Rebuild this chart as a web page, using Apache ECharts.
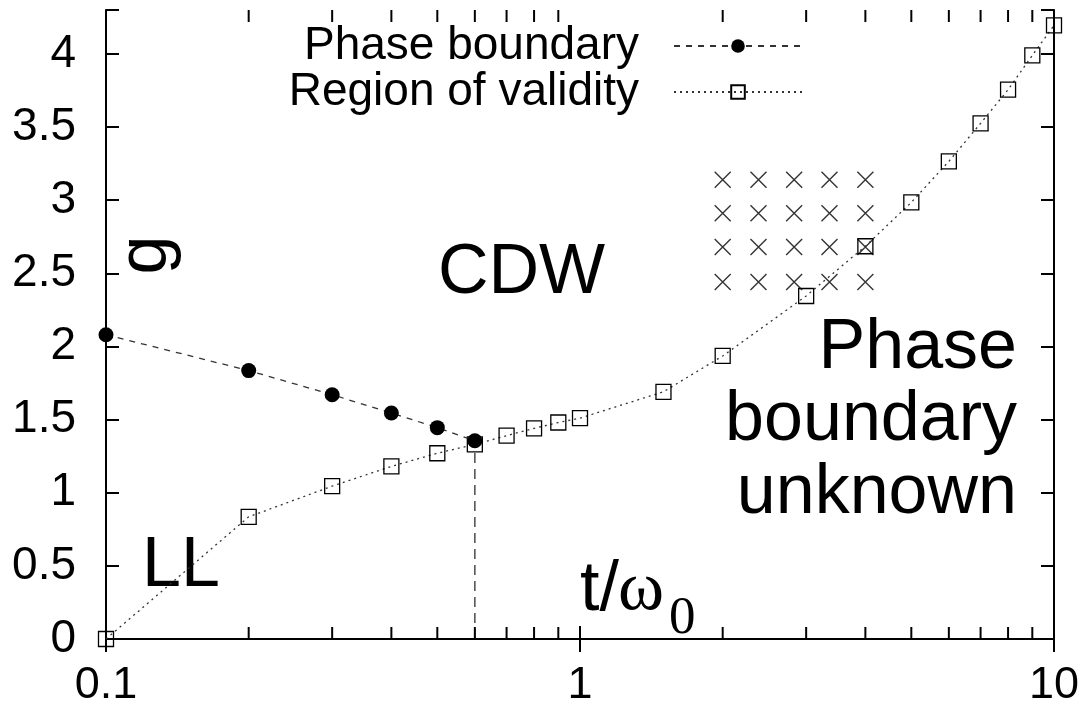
<!DOCTYPE html>
<html>
<head>
<meta charset="utf-8">
<script src="https://cdn.jsdelivr.net/npm/echarts@6/dist/echarts.min.js"></script>
<style>html,body{margin:0;padding:0;background:#fff}#c{width:1085px;height:709px}</style>
</head>
<body>
<div id="c"></div>
<script>
// ---- data ----
const phaseX = [0.1, 0.2, 0.3, 0.4, 0.5, 0.6];
const phaseY = [2.08, 1.835, 1.67, 1.545, 1.445, 1.355];

const validX = [0.1, 0.2, 0.3, 0.4, 0.5, 0.6, 0.7, 0.8, 0.9, 1, 1.5, 2, 3, 4, 5, 6, 7, 8, 9, 10];
const validY = [0, 0.835, 1.045, 1.18, 1.27, 1.33, 1.39, 1.44, 1.48, 1.51, 1.69, 1.935, 2.345, 2.685, 2.985, 3.265, 3.525, 3.755, 3.99, 4.195];

const crossX = [2, 2.38, 2.83, 3.36, 4];
const crossY = [3.14, 2.91, 2.68, 2.44];

const minorTicksX = [0.2, 0.3, 0.4, 0.5, 0.6, 0.7, 0.8, 0.9, 2, 3, 4, 5, 6, 7, 8, 9];

const X_MIN = 0.1, X_MAX = 10;
const Y_MIN = 0, Y_MAX = 4.3, Y_STEP = 0.5;

// ---- build ----
const zip = (a, b) => a.map((v, i) => [v, b[i]]);
const phaseData = zip(phaseX, phaseY);
const validData = zip(validX, validY);
const crossData = [];
crossY.forEach(y => crossX.forEach(x => crossData.push([x, y])));
const lastIdx = phaseX.length - 1;
const dropData = [[phaseX[lastIdx], Y_MIN], [phaseX[lastIdx], phaseY[lastIdx]]];

const FONT = 'Liberation Sans';
const chart = echarts.init(document.getElementById('c'), null, { renderer: 'canvas' });

const axisLine = { show: true, lineStyle: { color: '#000', width: 2 } };
const tick = { show: true, inside: true, length: 13, lineStyle: { color: '#000', width: 2 } };
const yFmt = v => (Math.abs(v / Y_STEP - Math.round(v / Y_STEP)) < 1e-6 ? String(+v.toFixed(2)) : '');

chart.setOption({
  animation: false,
  backgroundColor: '#fff',
  grid: { left: 106, right: 31, top: 10, bottom: 70, containLabel: false, outerBoundsMode: 'none' },
  legend: {
    data: ['Phase boundary', 'Region of validity'],
    orient: 'vertical', align: 'right',
    right: 282, top: 23, padding: 0,
    itemWidth: 128, itemHeight: 17, itemGap: 0,
    textStyle: { fontFamily: FONT, fontSize: 46, color: '#000', padding: [0, 30, 0, 0] },
    selectedMode: false
  },
  xAxis: [
    { type: 'log', logBase: 10, min: X_MIN, max: X_MAX, position: 'bottom',
      axisLine, axisTick: tick, splitLine: { show: false },
      axisLabel: { fontFamily: FONT, fontSize: 45, color: '#000', margin: 24 } },
    { type: 'log', logBase: 10, min: X_MIN, max: X_MAX, position: 'top',
      axisLine, axisTick: tick, splitLine: { show: false }, axisLabel: { show: false } }
  ],
  yAxis: [
    { type: 'value', min: Y_MIN, max: Y_MAX, interval: Y_STEP, position: 'left',
      axisLine, axisTick: tick, splitLine: { show: false },
      axisLabel: { fontFamily: FONT, fontSize: 46, color: '#000', margin: 30, formatter: yFmt } },
    { type: 'value', min: Y_MIN, max: Y_MAX, interval: Y_STEP, position: 'right',
      axisLine, axisTick: tick, splitLine: { show: false }, axisLabel: { show: false } }
  ],
  series: [
    { name: 'Phase boundary', type: 'line', data: phaseData,
      symbol: 'circle', symbolSize: 15,
      itemStyle: { color: '#000' },
      lineStyle: { color: '#333', width: 1.3, type: [6, 6] },
      z: 4 },
    { name: 'Region of validity', type: 'line', data: validData,
      symbol: 'rect', symbolSize: 15,
      itemStyle: { color: 'rgba(0,0,0,0)', borderColor: '#000', borderWidth: 1.3 },
      lineStyle: { color: '#333', width: 1.3, type: [2, 4] },
      z: 3 },
    { name: 'drop', type: 'line', data: dropData, symbol: 'none',
      lineStyle: { color: '#555', width: 1.6, type: [10, 6] }, z: 2 },
    { name: 'crosses', type: 'scatter', data: crossData,
      symbol: 'path://M0,0L10,10M10,0L0,10', symbolSize: 16,
      itemStyle: { color: 'rgba(0,0,0,0)', borderColor: '#000', borderWidth: 1.4 }, z: 2 },
    { name: 'minorTicks', type: 'custom', data: minorTicksX.map(v => [v, Y_MIN]),
      encode: { x: 0, y: 1 }, clip: false, silent: true, z: 5,
      renderItem: (params, api) => {
        const v = api.value(0);
        const pb = api.coord([v, Y_MIN]);
        const pt = api.coord([v, Y_MAX]);
        const st = { stroke: '#000', lineWidth: 2 };
        return { type: 'group', children: [
          { type: 'line', shape: { x1: pb[0], y1: pb[1], x2: pb[0], y2: pb[1] - 12 }, style: st },
          { type: 'line', shape: { x1: pt[0], y1: pt[1], x2: pt[0], y2: pt[1] + 12 }, style: st }
        ] };
      } }
  ],
  graphic: [
    { type: 'text', x: 438, y: 274, style: { text: 'CDW', font: '70px "Liberation Sans"', fill: '#000', align: 'left', verticalAlign: 'middle' } },
    { type: 'text', x: 1017, y: 421, style: { text: 'Phase\nboundary\nunknown', font: '70px "Liberation Sans"', lineHeight: 72.5, fill: '#000', align: 'right', verticalAlign: 'middle' } },
    { type: 'text', x: 142, y: 567, style: { text: 'LL', font: '70px "Liberation Sans"', fill: '#000', align: 'left', verticalAlign: 'middle' } },
    { type: 'text', x: 580, y: 591, style: { text: 't/', font: '70px "Liberation Sans"', fill: '#000', align: 'left', verticalAlign: 'middle' } },
    { type: 'text', x: 618, y: 591, style: { text: 'ω', font: '70px "Liberation Serif"', fill: '#000', align: 'left', verticalAlign: 'middle' } },
    { type: 'text', x: 669, y: 619, style: { text: '0', font: '53px "Liberation Serif"', fill: '#000', align: 'left', verticalAlign: 'middle' } },
    { type: 'text', x: 147, y: 255, rotation: Math.PI / 2, style: { text: 'g', font: '70px "Liberation Sans"', fill: '#000', align: 'center', verticalAlign: 'middle' } }
  ]
});
</script>
</body>
</html>
